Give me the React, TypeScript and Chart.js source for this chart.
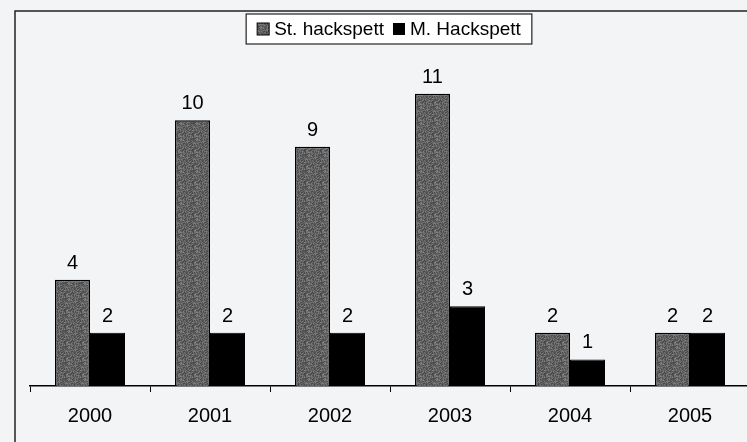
import React, { useEffect, useRef } from "react";
import { Chart, registerables } from "chart.js";

Chart.register(...registerables);

const years = ["2000", "2001", "2002", "2003", "2004", "2005"];
const stHackspett = [4, 10, 9, 11, 2, 2];
const mHackspett = [2, 2, 2, 3, 1, 2];
const seriesNames = ["St. hackspett", "M. Hackspett"];

const FONT = "Arial, 'Liberation Sans', sans-serif";

function makeGrayPattern(): CanvasPattern | string {
  const c = document.createElement("canvas");
  c.width = 16;
  c.height = 16;
  const ctx = c.getContext("2d");
  if (!ctx) return "#606060";
  for (let y = 0; y < 16; y++) {
    for (let x = 0; x < 16; x++) {
      const h = Math.abs(Math.sin(x * 12.9898 + y * 78.233) * 43758.5453) % 1;
      const v = Math.round(70 + h * 60);
      ctx.fillStyle = `rgb(${v},${v},${v})`;
      ctx.fillRect(x, y, 1, 1);
    }
  }
  return ctx.createPattern(c, "repeat") || "#606060";
}

export default function App() {
  const ref = useRef<HTMLCanvasElement | null>(null);

  useEffect(() => {
    if (!ref.current) return;
    const gray = makeGrayPattern();

    const bgPlugin = {
      id: "bg",
      beforeDraw(chart: any) {
        const ctx = chart.ctx;
        ctx.save();
        ctx.fillStyle = "#f3f4f6";
        ctx.fillRect(0, 0, chart.width, chart.height);
        ctx.strokeStyle = "#222";
        ctx.lineWidth = 1.5;
        ctx.beginPath();
        ctx.moveTo(15, chart.height);
        ctx.lineTo(15, 11);
        ctx.lineTo(chart.width, 11);
        ctx.stroke();
        ctx.restore();
      },
    };

    const labelPlugin = {
      id: "valueLabels",
      afterDatasetsDraw(chart: any) {
        const ctx = chart.ctx;
        ctx.save();
        ctx.fillStyle = "#000";
        ctx.font = `20px ${FONT}`;
        ctx.textAlign = "center";
        ctx.textBaseline = "alphabetic";
        chart.data.datasets.forEach((ds: any, i: number) => {
          const meta = chart.getDatasetMeta(i);
          meta.data.forEach((bar: any, j: number) => {
            ctx.fillText(String(ds.data[j]), bar.x, bar.y - 11);
          });
        });
        ctx.restore();
      },
    };

    const legendPlugin = {
      id: "boxLegend",
      afterDraw(chart: any) {
        const ctx = chart.ctx;
        ctx.save();
        ctx.font = `19px ${FONT}`;
        const sw = 12;
        const gap = 5;
        const itemGap = 9;
        const w0 = ctx.measureText(seriesNames[0]).width;
        const w1 = ctx.measureText(seriesNames[1]).width;
        const pad = 11;
        const total = pad * 2 + sw + gap + w0 + itemGap + sw + gap + w1;
        const left = 389 - total / 2;
        const top = 14;
        const h = 30;
        ctx.fillStyle = "#ffffff";
        ctx.fillRect(left, top, total, h);
        ctx.strokeStyle = "#222";
        ctx.lineWidth = 1.2;
        ctx.strokeRect(left, top, total, h);
        const cy = top + h / 2;
        let x = left + pad;
        ctx.fillStyle = gray as any;
        ctx.fillRect(x, cy - sw / 2, sw, sw);
        ctx.strokeStyle = "#000";
        ctx.lineWidth = 1;
        ctx.strokeRect(x, cy - sw / 2, sw, sw);
        x += sw + gap;
        ctx.fillStyle = "#000";
        ctx.textBaseline = "middle";
        ctx.textAlign = "left";
        ctx.fillText(seriesNames[0], x, cy + 1);
        x += w0 + itemGap;
        ctx.fillStyle = "#000";
        ctx.fillRect(x, cy - sw / 2, sw, sw);
        x += sw + gap;
        ctx.fillText(seriesNames[1], x, cy + 1);
        ctx.restore();
      },
    };

    const chart = new Chart(ref.current, {
      type: "bar",
      data: {
        labels: years,
        datasets: [
          {
            label: seriesNames[0],
            data: stHackspett,
            backgroundColor: gray as any,
            borderColor: "#000",
            borderWidth: 1.5,
            borderSkipped: "bottom",
            categoryPercentage: 0.5833,
            barPercentage: 1,
          },
          {
            label: seriesNames[1],
            data: mHackspett,
            backgroundColor: "#000",
            borderColor: "#000",
            borderWidth: 1,
            borderSkipped: "bottom",
            categoryPercentage: 0.5833,
            barPercentage: 1,
          },
        ],
      },
      options: {
        animation: false,
        responsive: false,
        maintainAspectRatio: false,
        layout: { padding: { left: 30, right: 10, top: 14, bottom: 2 } },
        plugins: {
          legend: { display: false },
          tooltip: { enabled: false },
        },
        scales: {
          x: {
            grid: {
              offset: true,
              drawOnChartArea: false,
              drawTicks: true,
              tickLength: 6,
              color: "#000",
              lineWidth: 1,
            },
            border: { display: true, color: "#000", width: 1.5 },
            ticks: {
              color: "#000",
              font: { family: FONT, size: 20 },
              padding: 12,
            },
          },
          y: {
            display: false,
            min: 0,
            max: 14,
          },
        },
      },
      plugins: [bgPlugin, labelPlugin, legendPlugin],
    });

    return () => chart.destroy();
  }, []);

  return (
    <div
      style={{
        position: "fixed",
        left: 0,
        top: 0,
        width: 747,
        height: 442,
        overflow: "hidden",
      }}
    >
      <canvas ref={ref} width={760} height={442} style={{ display: "block" }} />
    </div>
  );
}
